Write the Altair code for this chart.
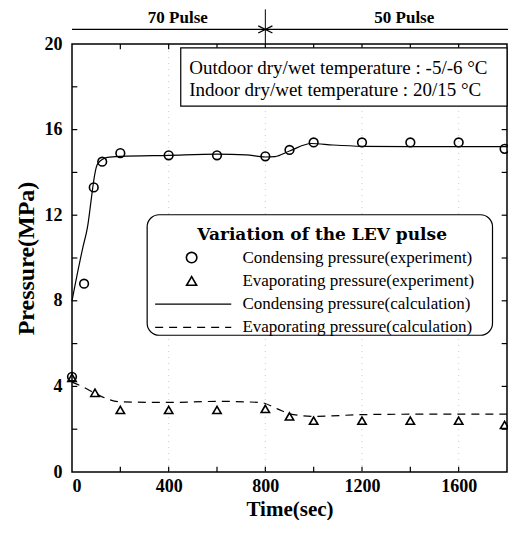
import altair as alt
import pandas as pd

# ---- data ----
cond_exp_t = [0, 50, 90, 125, 200, 400, 600, 800, 900, 1000, 1200, 1400, 1600, 1790]
cond_exp_p = [4.45, 8.8, 13.3, 14.5, 14.9, 14.8, 14.8, 14.75, 15.05, 15.4, 15.4, 15.4, 15.4, 15.1]

evap_exp_t = [0, 95, 200, 400, 600, 800, 900, 1000, 1200, 1400, 1600, 1790]
evap_exp_p = [4.4, 3.7, 2.9, 2.9, 2.9, 2.95, 2.6, 2.4, 2.4, 2.4, 2.4, 2.2]

cond_calc_t = [0, 12, 45, 65, 78, 86, 94, 106, 147, 200, 400, 600, 720, 800, 840, 900, 990, 1080, 1200, 1400, 1800]
cond_calc_p = [8.0, 8.7, 10.5, 11.5, 12.6, 13.3, 13.9, 14.4, 14.7, 14.75, 14.8, 14.85, 14.82, 14.72, 14.74, 15.0, 15.35, 15.28, 15.22, 15.2, 15.2]

evap_calc_t = [0, 50, 100, 150, 200, 400, 600, 780, 850, 900, 1000, 1200, 1400, 1800]
evap_calc_p = [4.2, 3.95, 3.65, 3.4, 3.28, 3.25, 3.3, 3.25, 2.95, 2.72, 2.6, 2.68, 2.7, 2.7]

x_labels = [0, 400, 800, 1200, 1600]
y_labels = [0, 4, 8, 12, 16, 20]
x_ticks = [200, 400, 600, 800, 1000, 1200, 1400, 1600]
y_ticks = [2, 4, 6, 8, 10, 12, 14, 16, 18]
grid_x = [400, 800, 1200, 1600]

pulse_labels = ["70 Pulse", "50 Pulse"]
pulse_switch = 800

info_lines = ["Outdoor dry/wet temperature : -5/-6 \u00b0C",
              "Indoor dry/wet temperature : 20/15 \u00b0C"]
legend_title = "Variation of the LEV pulse"
legend_rows = ["Condensing pressure(experiment)",
               "Evaporating pressure(experiment)",
               "Condensing pressure(calculation)",
               "Evaporating pressure(calculation)"]

XMAX, YMAX = 1800, 20
W, H = 435, 428
SERIF = "Liberation Serif"

xs = alt.Scale(domain=[0, XMAX], nice=False, zero=False)
ys = alt.Scale(domain=[0, YMAX], nice=False, zero=False)

x_axis = alt.Axis(values=x_labels, format="d", ticks=False, domain=False, grid=False,
                  labelFont=SERIF, labelFontWeight="bold", labelFontSize=18,
                  labelPadding=5, labelColor="black",
                  titleFont=SERIF, titleFontWeight="bold", titleFontSize=21,
                  titlePadding=3, titleColor="black")
y_axis = alt.Axis(values=y_labels, format="d", ticks=False, domain=False, grid=False,
                  labelFont=SERIF, labelFontWeight="bold", labelFontSize=18,
                  labelPadding=10, labelColor="black",
                  titleFont=SERIF, titleFontWeight="bold", titleFontSize=24,
                  titlePadding=6, titleColor="black")

def X(field="x"):
    return alt.X(field, type="quantitative", scale=xs, axis=x_axis, title="Time(sec)")

def Y(field="y"):
    return alt.Y(field, type="quantitative", scale=ys, axis=y_axis, title="Pressure(MPa)")

grid = alt.Chart(pd.DataFrame({"x": grid_x})).mark_rule(
    color="#cccccc", strokeDash=[1, 5], strokeWidth=1).encode(
    x=X(), y=alt.datum(0, scale=ys), y2=alt.datum(YMAX))

tb = pd.DataFrame({"x": x_ticks})
ticks_bottom = alt.Chart(tb).mark_rule(color="black", strokeWidth=1.2).encode(
    x=X(), y=alt.datum(0, scale=ys), y2=alt.datum(0.25))
ticks_top = alt.Chart(tb).mark_rule(color="black", strokeWidth=1.2).encode(
    x=X(), y=alt.datum(YMAX, scale=ys), y2=alt.datum(YMAX - 0.25))
tl = pd.DataFrame({"y": y_ticks})
ticks_left = alt.Chart(tl).mark_rule(color="black", strokeWidth=1.2).encode(
    y=Y(), x=alt.datum(0, scale=xs), x2=alt.datum(22))
ticks_right = alt.Chart(tl).mark_rule(color="black", strokeWidth=1.2).encode(
    y=Y(), x=alt.datum(XMAX, scale=xs), x2=alt.datum(XMAX - 22))

cond_calc = alt.Chart(pd.DataFrame({"x": cond_calc_t, "y": cond_calc_p})).mark_line(
    color="black", strokeWidth=1.2, interpolate="monotone").encode(x=X(), y=Y())
evap_calc = alt.Chart(pd.DataFrame({"x": evap_calc_t, "y": evap_calc_p})).mark_line(
    color="black", strokeWidth=1.2, strokeDash=[8, 6], interpolate="monotone").encode(x=X(), y=Y())

cond_pts = alt.Chart(pd.DataFrame({"x": cond_exp_t, "y": cond_exp_p})).mark_point(
    shape="circle", filled=False, color="black", strokeWidth=1.6, size=75, opacity=1).encode(x=X(), y=Y())
evap_pts = alt.Chart(pd.DataFrame({"x": evap_exp_t, "y": evap_exp_p})).mark_point(
    shape="triangle-up", filled=False, color="black", strokeWidth=1.6, size=70, opacity=1).encode(x=X(), y=Y())

# top pulse decoration
top_line = alt.Chart(pd.DataFrame({"x": [0], "x2": [XMAX + 30]})).mark_rule(
    color="black", strokeWidth=1.2).encode(
    x=X(), x2="x2:Q", y=alt.datum(20.68, scale=ys))
top_vert = alt.Chart(pd.DataFrame({"x": [pulse_switch]})).mark_rule(
    color="black", strokeWidth=1).encode(
    x=X(), y=alt.datum(20, scale=ys), y2=alt.datum(21.62))
top_x = alt.Chart(pd.DataFrame({"x": [pulse_switch], "y": [20.68]})).mark_point(
    shape="M-1,-0.5L1,0.5M-1,0.5L1,-0.5", filled=False, color="black",
    strokeWidth=1.3, size=200, opacity=1).encode(x=X(), y=Y())
top_text = alt.Chart(pd.DataFrame({"x": [438, 1375], "y": [21.2, 21.2], "t": pulse_labels})).mark_text(
    font=SERIF, fontWeight="bold", fontSize=17, color="black", baseline="middle").encode(
    x=X(), y=Y(), text="t:N")

# info box
info_box = alt.Chart(pd.DataFrame({"x": [450], "x2": [XMAX], "y": [19.82], "y2": [17.1]})).mark_rect(
    fill="white", stroke="black", strokeWidth=1.2).encode(x=X(), x2="x2:Q", y=Y(), y2="y2:Q")
info_text = alt.Chart(pd.DataFrame({"x": [485, 485], "y": [18.9, 17.87], "t": info_lines})).mark_text(
    font=SERIF, fontSize=19, color="black", align="left", baseline="middle").encode(
    x=X(), y=Y(), text="t:N")

# legend box
leg_box = alt.Chart(pd.DataFrame({"x": [311], "x2": [1740], "y": [12.02], "y2": [6.39]})).mark_rect(
    fill="white", stroke="black", strokeWidth=1.2, cornerRadius=12).encode(x=X(), x2="x2:Q", y=Y(), y2="y2:Q")
leg_title = alt.Chart(pd.DataFrame({"x": [1035], "y": [11.07], "t": [legend_title]})).mark_text(
    font="DejaVu Serif", fontWeight="bold", fontSize=17, color="black", baseline="middle").encode(
    x=X(), y=Y(), text="t:N")
row_y = [10.02, 8.93, 7.84, 6.76]
leg_text = alt.Chart(pd.DataFrame({"x": [705] * 4, "y": row_y, "t": legend_rows})).mark_text(
    font=SERIF, fontSize=17, color="black", align="left", baseline="middle").encode(
    x=X(), y=Y(), text="t:N")
leg_c = alt.Chart(pd.DataFrame({"x": [495], "y": [row_y[0]]})).mark_point(
    shape="circle", filled=False, color="black", strokeWidth=1.6, size=110, opacity=1).encode(x=X(), y=Y())
leg_t = alt.Chart(pd.DataFrame({"x": [495], "y": [row_y[1]]})).mark_point(
    shape="triangle-up", filled=False, color="black", strokeWidth=1.6, size=100, opacity=1).encode(x=X(), y=Y())
leg_l1 = alt.Chart(pd.DataFrame({"x": [344], "x2": [659], "y": [row_y[2]]})).mark_rule(
    color="black", strokeWidth=1.2).encode(x=X(), x2="x2:Q", y=Y())
leg_l2 = alt.Chart(pd.DataFrame({"x": [344], "x2": [659], "y": [row_y[3]]})).mark_rule(
    color="black", strokeWidth=1.2, strokeDash=[8, 6]).encode(x=X(), x2="x2:Q", y=Y())

chart = alt.layer(
    grid, ticks_bottom, ticks_top, ticks_left, ticks_right,
    cond_calc, evap_calc, cond_pts, evap_pts,
    top_line, top_vert, top_x, top_text,
    info_box, info_text,
    leg_box, leg_title, leg_text, leg_c, leg_t, leg_l1, leg_l2,
).properties(
    width=W, height=H,
    autosize=alt.AutoSizeParams(type="none"),
    padding={"left": 64, "top": 36, "right": 1, "bottom": 48},
).configure(
    background="white",
    view=alt.ViewConfig(stroke="black", strokeWidth=1.5),
)

chart.save("out.html", embed_options={"renderer": "svg", "actions": False})
